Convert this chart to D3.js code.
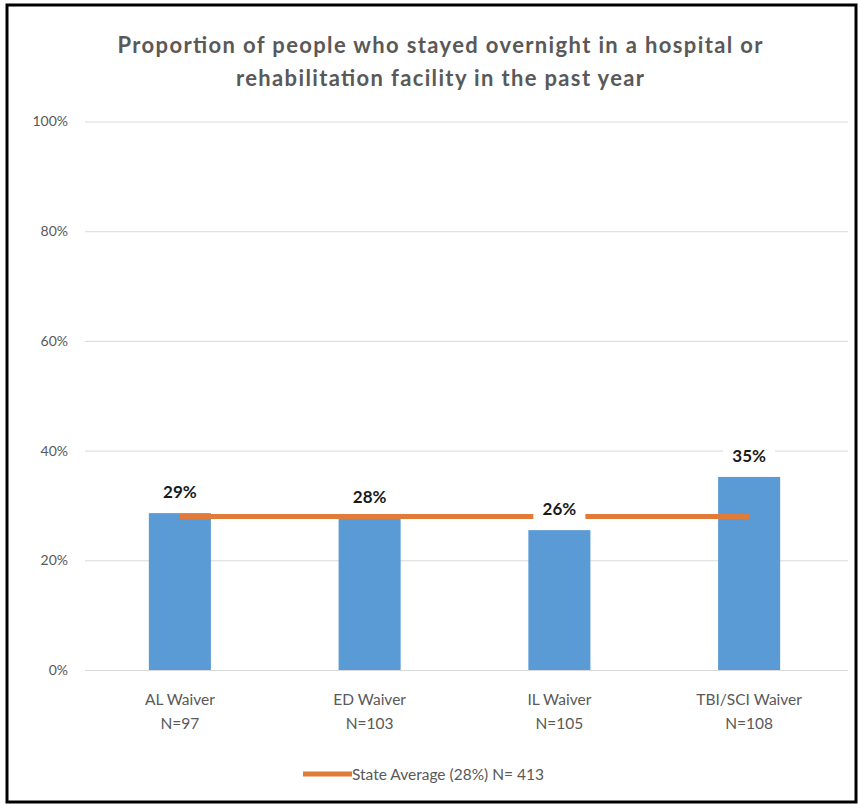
<!DOCTYPE html>
<html>
<head>
<meta charset="utf-8">
<script src="https://cdn.jsdelivr.net/npm/d3@7"></script>
<style>
  html, body { margin: 0; padding: 0; background: #fff; }
  svg { display: block; }
</style>
</head>
<body>
<svg id="chart" width="858" height="804"></svg>
<script>
const categories = ["AL Waiver", "ED Waiver", "IL Waiver", "TBI/SCI Waiver"];
const sampleSizes = ["N=97", "N=103", "N=105", "N=108"];
const values = [28.6, 27.7, 25.5, 35.2];
const valueLabels = ["29%", "28%", "26%", "35%"];
const stateAverage = [28, 28, 28, 28];
const yTicks = [0, 20, 40, 60, 80, 100];
const titleLines = ["Proportion of people who stayed overnight in a hospital or",
                    "rehabilitation facility in the past year"];
const legendLabel = "State Average (28%) N= 413";

const svg = d3.select("#chart");
const font = "Lato, 'Open Sans', sans-serif";
const grey = "#595959";

// frame
svg.append("rect").attr("x", 7).attr("y", 5).attr("width", 849).attr("height", 797)
  .attr("fill", "none").attr("stroke", "#000").attr("stroke-width", 3);

const x = d3.scaleBand().domain(categories).range([85, 844]).paddingInner(0.673).paddingOuter(0.3365);
const y = d3.scaleLinear().domain([0, 100]).range([670, 121.5]);

// title
const titleWidths = [645, 408];
svg.append("g").selectAll("text").data(titleLines).join("text")
  .attr("x", 440).attr("y", (d, i) => 53 + i * 33)
  .attr("text-anchor", "middle").attr("font-family", font).attr("font-size", 22)
  .attr("font-weight", "bold")
  .attr("textLength", (d, i) => titleWidths[i]).attr("lengthAdjust", "spacing")
  .attr("fill", grey).text(d => d);

// gridlines
const yAxis = d3.axisLeft(y).tickValues(yTicks).tickFormat(d => d + "%").tickSize(-763).tickPadding(17);
const gy = svg.append("g").attr("transform", "translate(85,0)").call(yAxis);
gy.select(".domain").remove();
gy.selectAll(".tick line").attr("stroke", "#d9d9d9").attr("stroke-width", 1);
gy.selectAll(".tick text").attr("fill", grey).attr("font-family", font).attr("font-size", 14);

// bars
svg.append("g").selectAll("rect").data(values).join("rect")
  .attr("x", (d, i) => x(categories[i]))
  .attr("width", x.bandwidth())
  .attr("y", d => y(d))
  .attr("height", d => y(0) - y(d))
  .attr("fill", "#5b9bd5");

// state average line
const line = d3.line().x((d, i) => x(categories[i]) + x.bandwidth() / 2).y(d => y(d));
svg.append("path").datum(stateAverage).attr("d", line)
  .attr("fill", "none").attr("stroke", "#e07b39").attr("stroke-width", 5);

// value labels with white background
const lg = svg.append("g").selectAll("g").data(values).join("g")
  .attr("transform", (d, i) => `translate(${x(categories[i]) + x.bandwidth() / 2},${y(d) - 15})`);
lg.append("rect").attr("x", -26).attr("y", -17).attr("width", 52).attr("height", 22).attr("fill", "#fff");
lg.append("text").attr("text-anchor", "middle").attr("font-family", font)
  .attr("font-size", 17).attr("font-weight", "bold").attr("fill", "#1a1a1a")
  .text((d, i) => valueLabels[i]);

// x axis labels
const xl = svg.append("g").selectAll("text").data(categories).join("text")
  .attr("text-anchor", "middle").attr("font-family", font).attr("font-size", 15.5).attr("fill", grey)
  .attr("x", d => x(d) + x.bandwidth() / 2);
xl.append("tspan").attr("x", d => x(d) + x.bandwidth() / 2).attr("y", 705).text(d => d);
xl.append("tspan").attr("x", d => x(d) + x.bandwidth() / 2).attr("y", 729).text((d, i) => sampleSizes[i]);

// legend
svg.append("line").attr("x1", 303).attr("x2", 352).attr("y1", 774).attr("y2", 774)
  .attr("stroke", "#e07b39").attr("stroke-width", 5);
svg.append("text").attr("x", 352).attr("y", 779.5).attr("font-family", font).attr("font-size", 15.5)
  .attr("fill", grey).text(legendLabel);
</script>
</body>
</html>
